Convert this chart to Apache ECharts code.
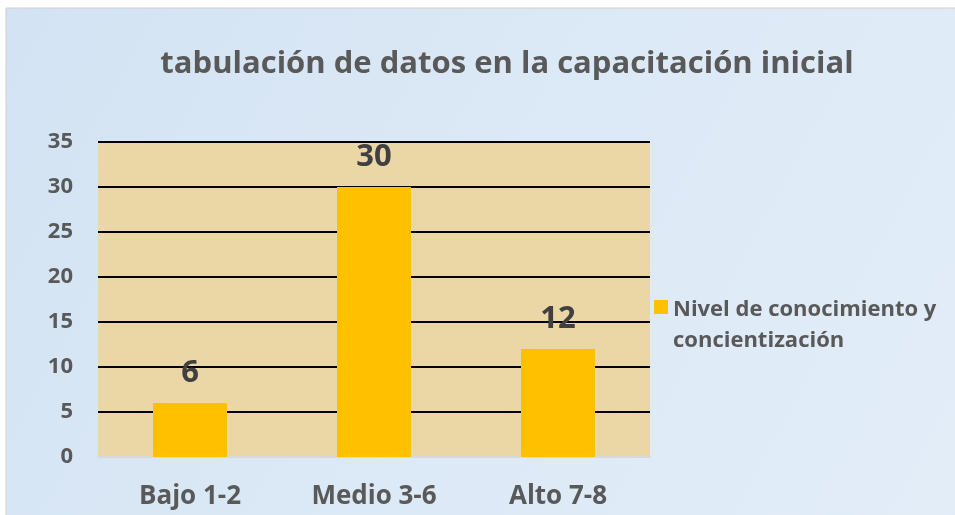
<!DOCTYPE html>
<html>
<head>
<meta charset="utf-8">
<script src="https://cdn.jsdelivr.net/npm/echarts@6/dist/echarts.min.js"></script>
<style>
  html, body { margin: 0; padding: 0; background: #fff; }
  #main { width: 955px; height: 515px; }
</style>
</head>
<body>
<div id="main"></div>
<script>
// datos
var categorias = ['Bajo 1-2', 'Medio 3-6', 'Alto 7-8'];
var valores = [6, 30, 12];
var nombreSerie = 'Nivel de conocimiento y\nconcientización';

var chart = echarts.init(document.getElementById('main'));

var textoGris = '#595959';
var fuente = '"Open Sans", "Noto Sans", sans-serif';

var option = {
  backgroundColor: '#ffffff',
  // fondo azul del gráfico
  graphic: [{
    type: 'rect',
    z: -10,
    shape: { x: 6, y: 8, width: 955, height: 515 },
    style: {
      fill: new echarts.graphic.LinearGradient(0, 0, 1, 1, [
        { offset: 0, color: '#d3e3f3' },
        { offset: 0.5, color: '#dce9f6' },
        { offset: 1, color: '#e2edf8' }
      ]),
      stroke: '#d0d0d0',
      lineWidth: 1
    }
  }],
  title: {
    text: 'tabulación de datos en la capacitación inicial',
    left: 502,
    top: 44,
    textAlign: 'center',
    textStyle: {
      fontFamily: fuente,
      fontSize: 31,
      fontWeight: 'bold',
      color: textoGris
    }
  },
  legend: {
    data: [nombreSerie],
    left: 649,
    top: 289,
    orient: 'vertical',
    // cuadro alineado con la primera línea del texto
    icon: 'path://M0,0L0.01,0Z M0,6L14,6L14,20L0,20Z M0,62L0.01,62Z',
    itemWidth: 14,
    itemHeight: 62,
    itemGap: 0,
    textStyle: {
      fontFamily: fuente,
      fontSize: 22,
      fontWeight: 'bold',
      color: textoGris,
      lineHeight: 31
    }
  },
  grid: {
    left: 98,
    top: 142,
    width: 552,
    height: 315,
    show: true,
    backgroundColor: '#ebd6a6',
    borderWidth: 0
  },
  xAxis: {
    type: 'category',
    data: categorias,
    axisLine: { show: true, lineStyle: { color: '#d9d9d9', width: 2 } },
    axisTick: { show: false },
    axisLabel: {
      margin: 27,
      fontFamily: fuente,
      fontSize: 26,
      fontWeight: 'bold',
      color: textoGris
    }
  },
  yAxis: {
    type: 'value',
    min: 0,
    max: 35,
    interval: 5,
    axisLine: { show: false },
    axisTick: { show: false },
    splitLine: { lineStyle: { color: '#000000', width: 2 } },
    axisLabel: {
      margin: 25,
      fontFamily: fuente,
      fontSize: 22,
      fontWeight: 'bold',
      color: textoGris
    }
  },
  series: [{
    name: nombreSerie,
    type: 'bar',
    data: valores,
    barWidth: 74,
    itemStyle: { color: '#ffc000' },
    z: 3,
    label: {
      show: true,
      position: 'top',
      distance: 14,
      fontFamily: fuente,
      fontSize: 31,
      fontWeight: 'bold',
      color: '#404040'
    }
  }]
};

chart.setOption(option);
</script>
</body>
</html>
